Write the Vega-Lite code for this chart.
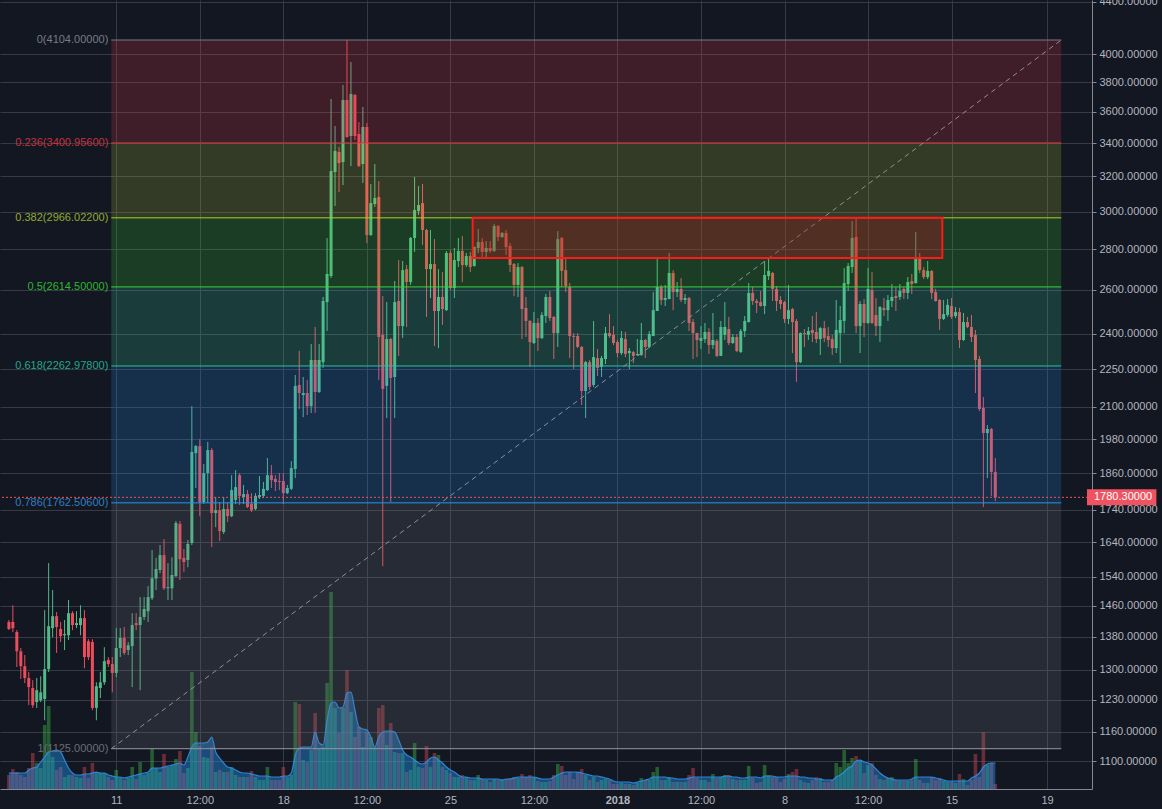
{
"$schema":"https://vega.github.io/schema/vega-lite/v6.json",
"width":1092,"height":789,
"autosize":{"type":"none"},
"padding":{"left":0,"top":0,"right":70,"bottom":20},
"background":"#131722",
"config":{"view":{"stroke":null},"font":"Liberation Sans",
 "axisX":{"gridColor":"#363a45","gridWidth":1,"ticks":false,"domainColor":"#868993","labelColor":"#b2b5be","labelFontSize":11,"labelFont":"Liberation Sans","labelPadding":5,"labelFlush":false,"labelOverlap":false}},
"datasets":{
"candles":[
{"t":"2017-12-06T12:00Z","o":1418,"h":1423,"l":1397,"c":1400,"v":140,"ma":160},
{"t":"2017-12-06T16:00Z","o":1418,"h":1462,"l":1392,"c":1402,"v":200,"ma":160},
{"t":"2017-12-06T20:00Z","o":1392,"h":1397,"l":1306,"c":1344,"v":170,"ma":160},
{"t":"2017-12-07T00:00Z","o":1344,"h":1352,"l":1278,"c":1308,"v":140,"ma":160},
{"t":"2017-12-07T04:00Z","o":1308,"h":1335,"l":1268,"c":1280,"v":120,"ma":160},
{"t":"2017-12-07T08:00Z","o":1280,"h":1294,"l":1218,"c":1259,"v":210,"ma":190},
{"t":"2017-12-07T12:00Z","o":1257,"h":1275,"l":1212,"c":1218,"v":360,"ma":210},
{"t":"2017-12-07T16:00Z","o":1225,"h":1280,"l":1212,"c":1252,"v":260,"ma":220},
{"t":"2017-12-07T20:00Z","o":1229,"h":1284,"l":1225,"c":1247,"v":210,"ma":270},
{"t":"2017-12-08T00:00Z","o":1232,"h":1449,"l":1185,"c":1301,"v":640,"ma":320},
{"t":"2017-12-08T04:00Z","o":1301,"h":1579,"l":1294,"c":1407,"v":830,"ma":370},
{"t":"2017-12-08T08:00Z","o":1402,"h":1503,"l":1379,"c":1433,"v":320,"ma":380},
{"t":"2017-12-08T12:00Z","o":1433,"h":1444,"l":1340,"c":1405,"v":190,"ma":390},
{"t":"2017-12-08T16:00Z","o":1400,"h":1418,"l":1367,"c":1382,"v":220,"ma":370},
{"t":"2017-12-08T20:00Z","o":1384,"h":1423,"l":1347,"c":1387,"v":120,"ma":290},
{"t":"2017-12-09T00:00Z","o":1384,"h":1476,"l":1372,"c":1441,"v":140,"ma":210},
{"t":"2017-12-09T04:00Z","o":1441,"h":1446,"l":1397,"c":1410,"v":140,"ma":160},
{"t":"2017-12-09T08:00Z","o":1410,"h":1446,"l":1402,"c":1415,"v":120,"ma":140},
{"t":"2017-12-09T12:00Z","o":1410,"h":1462,"l":1384,"c":1428,"v":110,"ma":140},
{"t":"2017-12-09T16:00Z","o":1428,"h":1449,"l":1303,"c":1330,"v":220,"ma":150},
{"t":"2017-12-09T20:00Z","o":1369,"h":1374,"l":1323,"c":1330,"v":110,"ma":150},
{"t":"2017-12-10T00:00Z","o":1367,"h":1374,"l":1207,"c":1212,"v":260,"ma":160},
{"t":"2017-12-10T04:00Z","o":1212,"h":1270,"l":1185,"c":1261,"v":170,"ma":170},
{"t":"2017-12-10T08:00Z","o":1257,"h":1294,"l":1234,"c":1270,"v":160,"ma":160},
{"t":"2017-12-10T12:00Z","o":1270,"h":1354,"l":1264,"c":1320,"v":160,"ma":160},
{"t":"2017-12-10T16:00Z","o":1323,"h":1330,"l":1306,"c":1313,"v":120,"ma":140},
{"t":"2017-12-10T20:00Z","o":1313,"h":1330,"l":1247,"c":1292,"v":90,"ma":130},
{"t":"2017-12-11T00:00Z","o":1292,"h":1402,"l":1282,"c":1352,"v":190,"ma":120},
{"t":"2017-12-11T04:00Z","o":1352,"h":1402,"l":1330,"c":1377,"v":110,"ma":120},
{"t":"2017-12-11T08:00Z","o":1377,"h":1405,"l":1335,"c":1340,"v":90,"ma":110},
{"t":"2017-12-11T12:00Z","o":1347,"h":1367,"l":1335,"c":1359,"v":110,"ma":120},
{"t":"2017-12-11T16:00Z","o":1357,"h":1441,"l":1259,"c":1410,"v":220,"ma":130},
{"t":"2017-12-11T20:00Z","o":1415,"h":1441,"l":1397,"c":1410,"v":100,"ma":140},
{"t":"2017-12-12T00:00Z","o":1410,"h":1484,"l":1252,"c":1431,"v":270,"ma":150},
{"t":"2017-12-12T04:00Z","o":1431,"h":1484,"l":1423,"c":1452,"v":140,"ma":160},
{"t":"2017-12-12T08:00Z","o":1446,"h":1514,"l":1418,"c":1484,"v":160,"ma":170},
{"t":"2017-12-12T12:00Z","o":1481,"h":1617,"l":1476,"c":1536,"v":400,"ma":210},
{"t":"2017-12-12T16:00Z","o":1535,"h":1594,"l":1503,"c":1562,"v":210,"ma":210},
{"t":"2017-12-12T20:00Z","o":1559,"h":1632,"l":1550,"c":1602,"v":170,"ma":210},
{"t":"2017-12-13T00:00Z","o":1602,"h":1650,"l":1503,"c":1508,"v":350,"ma":220},
{"t":"2017-12-13T04:00Z","o":1508,"h":1579,"l":1476,"c":1511,"v":220,"ma":230},
{"t":"2017-12-13T08:00Z","o":1508,"h":1596,"l":1476,"c":1545,"v":240,"ma":240},
{"t":"2017-12-13T12:00Z","o":1542,"h":1705,"l":1539,"c":1699,"v":300,"ma":250},
{"t":"2017-12-13T16:00Z","o":1696,"h":1705,"l":1531,"c":1590,"v":380,"ma":260},
{"t":"2017-12-13T20:00Z","o":1594,"h":1620,"l":1553,"c":1582,"v":160,"ma":240},
{"t":"2017-12-14T00:00Z","o":1588,"h":1647,"l":1567,"c":1635,"v":210,"ma":320},
{"t":"2017-12-14T04:00Z","o":1638,"h":2103,"l":1632,"c":1934,"v":1170,"ma":420},
{"t":"2017-12-14T08:00Z","o":1930,"h":1959,"l":1811,"c":1955,"v":570,"ma":460},
{"t":"2017-12-14T12:00Z","o":1955,"h":1980,"l":1720,"c":1765,"v":430,"ma":460},
{"t":"2017-12-14T16:00Z","o":1765,"h":1892,"l":1759,"c":1861,"v":320,"ma":460},
{"t":"2017-12-14T20:00Z","o":1861,"h":1970,"l":1762,"c":1941,"v":310,"ma":470},
{"t":"2017-12-15T00:00Z","o":1941,"h":1948,"l":1626,"c":1730,"v":420,"ma":520},
{"t":"2017-12-15T04:00Z","o":1730,"h":1781,"l":1686,"c":1739,"v":170,"ma":370},
{"t":"2017-12-15T08:00Z","o":1739,"h":1765,"l":1644,"c":1674,"v":190,"ma":310},
{"t":"2017-12-15T12:00Z","o":1671,"h":1781,"l":1665,"c":1743,"v":170,"ma":260},
{"t":"2017-12-15T16:00Z","o":1743,"h":1765,"l":1702,"c":1720,"v":170,"ma":220},
{"t":"2017-12-15T20:00Z","o":1720,"h":1854,"l":1717,"c":1804,"v":220,"ma":210},
{"t":"2017-12-16T00:00Z","o":1772,"h":1871,"l":1759,"c":1814,"v":140,"ma":190},
{"t":"2017-12-16T04:00Z","o":1854,"h":1861,"l":1756,"c":1785,"v":120,"ma":170},
{"t":"2017-12-16T08:00Z","o":1781,"h":1821,"l":1759,"c":1791,"v":120,"ma":160},
{"t":"2017-12-16T12:00Z","o":1791,"h":1804,"l":1746,"c":1749,"v":120,"ma":160},
{"t":"2017-12-16T16:00Z","o":1759,"h":1794,"l":1733,"c":1739,"v":180,"ma":150},
{"t":"2017-12-16T20:00Z","o":1743,"h":1794,"l":1739,"c":1785,"v":120,"ma":140},
{"t":"2017-12-17T00:00Z","o":1781,"h":1851,"l":1775,"c":1788,"v":90,"ma":130},
{"t":"2017-12-17T04:00Z","o":1785,"h":1831,"l":1778,"c":1808,"v":90,"ma":130},
{"t":"2017-12-17T08:00Z","o":1804,"h":1913,"l":1801,"c":1854,"v":220,"ma":130},
{"t":"2017-12-17T12:00Z","o":1854,"h":1889,"l":1811,"c":1837,"v":90,"ma":120},
{"t":"2017-12-17T16:00Z","o":1841,"h":1854,"l":1801,"c":1831,"v":90,"ma":120},
{"t":"2017-12-17T20:00Z","o":1834,"h":1861,"l":1804,"c":1831,"v":90,"ma":120},
{"t":"2017-12-18T00:00Z","o":1834,"h":1861,"l":1759,"c":1794,"v":220,"ma":130},
{"t":"2017-12-18T04:00Z","o":1794,"h":1821,"l":1791,"c":1811,"v":120,"ma":130},
{"t":"2017-12-18T08:00Z","o":1808,"h":1902,"l":1804,"c":1878,"v":140,"ma":160},
{"t":"2017-12-18T12:00Z","o":1875,"h":2226,"l":1844,"c":2182,"v":870,"ma":340},
{"t":"2017-12-18T16:00Z","o":2186,"h":2326,"l":2092,"c":2154,"v":850,"ma":410},
{"t":"2017-12-18T20:00Z","o":2146,"h":2218,"l":2061,"c":2154,"v":290,"ma":420},
{"t":"2017-12-19T00:00Z","o":2154,"h":2206,"l":2069,"c":2103,"v":270,"ma":420},
{"t":"2017-12-19T04:00Z","o":2103,"h":2356,"l":2077,"c":2288,"v":390,"ma":420},
{"t":"2017-12-19T08:00Z","o":2288,"h":2430,"l":2077,"c":2158,"v":760,"ma":570},
{"t":"2017-12-19T12:00Z","o":2158,"h":2356,"l":2154,"c":2288,"v":410,"ma":460},
{"t":"2017-12-19T16:00Z","o":2279,"h":2567,"l":2255,"c":2548,"v":420,"ma":440},
{"t":"2017-12-19T20:00Z","o":2543,"h":2859,"l":2412,"c":2677,"v":1060,"ma":690},
{"t":"2017-12-20T00:00Z","o":2667,"h":3685,"l":2657,"c":3231,"v":1970,"ma":860},
{"t":"2017-12-20T04:00Z","o":3225,"h":3508,"l":3031,"c":3351,"v":810,"ma":870},
{"t":"2017-12-20T08:00Z","o":3345,"h":3376,"l":3109,"c":3278,"v":560,"ma":810},
{"t":"2017-12-20T12:00Z","o":3284,"h":3780,"l":3149,"c":3678,"v":810,"ma":820},
{"t":"2017-12-20T16:00Z","o":3678,"h":4104,"l":3432,"c":3438,"v":1190,"ma":960},
{"t":"2017-12-20T20:00Z","o":3444,"h":3942,"l":3260,"c":3719,"v":770,"ma":970},
{"t":"2017-12-21T00:00Z","o":3712,"h":3719,"l":3419,"c":3444,"v":520,"ma":790},
{"t":"2017-12-21T04:00Z","o":3457,"h":3533,"l":3255,"c":3260,"v":620,"ma":620},
{"t":"2017-12-21T08:00Z","o":3272,"h":3632,"l":3161,"c":3501,"v":420,"ma":600},
{"t":"2017-12-21T12:00Z","o":3501,"h":3527,"l":2833,"c":2874,"v":570,"ma":590},
{"t":"2017-12-21T16:00Z","o":2874,"h":3155,"l":2869,"c":3047,"v":520,"ma":520},
{"t":"2017-12-21T20:00Z","o":3042,"h":3272,"l":3025,"c":3075,"v":420,"ma":420},
{"t":"2017-12-22T00:00Z","o":3081,"h":3172,"l":2206,"c":2386,"v":810,"ma":520},
{"t":"2017-12-22T04:00Z","o":2395,"h":2571,"l":1570,"c":2170,"v":840,"ma":570},
{"t":"2017-12-22T08:00Z","o":2182,"h":2543,"l":2058,"c":2377,"v":440,"ma":580},
{"t":"2017-12-22T12:00Z","o":2377,"h":2382,"l":1765,"c":2214,"v":660,"ma":580},
{"t":"2017-12-22T16:00Z","o":2218,"h":2643,"l":2058,"c":2543,"v":370,"ma":570},
{"t":"2017-12-22T20:00Z","o":2548,"h":2746,"l":2305,"c":2434,"v":360,"ma":490},
{"t":"2017-12-23T00:00Z","o":2434,"h":2741,"l":2382,"c":2696,"v":360,"ma":390},
{"t":"2017-12-23T04:00Z","o":2701,"h":2721,"l":2430,"c":2638,"v":170,"ma":340},
{"t":"2017-12-23T08:00Z","o":2638,"h":2864,"l":2624,"c":2859,"v":190,"ma":320},
{"t":"2017-12-23T12:00Z","o":2859,"h":3196,"l":2787,"c":3009,"v":460,"ma":290},
{"t":"2017-12-23T16:00Z","o":3003,"h":3143,"l":2981,"c":3036,"v":220,"ma":260},
{"t":"2017-12-23T20:00Z","o":3047,"h":3155,"l":2822,"c":2901,"v":210,"ma":250},
{"t":"2017-12-24T00:00Z","o":2901,"h":2906,"l":2475,"c":2701,"v":430,"ma":270},
{"t":"2017-12-24T04:00Z","o":2701,"h":2901,"l":2562,"c":2726,"v":220,"ma":310},
{"t":"2017-12-24T08:00Z","o":2726,"h":2853,"l":2347,"c":2502,"v":360,"ma":320},
{"t":"2017-12-24T12:00Z","o":2502,"h":2701,"l":2338,"c":2567,"v":340,"ma":290},
{"t":"2017-12-24T16:00Z","o":2567,"h":2687,"l":2439,"c":2511,"v":220,"ma":260},
{"t":"2017-12-24T20:00Z","o":2506,"h":2792,"l":2502,"c":2782,"v":190,"ma":220},
{"t":"2017-12-25T00:00Z","o":2782,"h":2797,"l":2600,"c":2609,"v":160,"ma":190},
{"t":"2017-12-25T04:00Z","o":2609,"h":2807,"l":2562,"c":2746,"v":120,"ma":170},
{"t":"2017-12-25T08:00Z","o":2741,"h":2859,"l":2711,"c":2792,"v":120,"ma":140},
{"t":"2017-12-25T12:00Z","o":2792,"h":2869,"l":2638,"c":2721,"v":140,"ma":120},
{"t":"2017-12-25T16:00Z","o":2721,"h":2782,"l":2711,"c":2766,"v":120,"ma":120},
{"t":"2017-12-25T20:00Z","o":2766,"h":2787,"l":2687,"c":2711,"v":90,"ma":110},
{"t":"2017-12-26T00:00Z","o":2716,"h":2815,"l":2714,"c":2812,"v":90,"ma":110},
{"t":"2017-12-26T04:00Z","o":2807,"h":2906,"l":2782,"c":2838,"v":140,"ma":110},
{"t":"2017-12-26T08:00Z","o":2838,"h":2859,"l":2761,"c":2787,"v":100,"ma":100},
{"t":"2017-12-26T12:00Z","o":2787,"h":2843,"l":2761,"c":2807,"v":90,"ma":100},
{"t":"2017-12-26T16:00Z","o":2807,"h":2843,"l":2782,"c":2792,"v":70,"ma":100},
{"t":"2017-12-26T20:00Z","o":2792,"h":2933,"l":2787,"c":2922,"v":100,"ma":100},
{"t":"2017-12-27T00:00Z","o":2922,"h":2927,"l":2843,"c":2864,"v":90,"ma":100},
{"t":"2017-12-27T04:00Z","o":2864,"h":2890,"l":2859,"c":2885,"v":90,"ma":90},
{"t":"2017-12-27T08:00Z","o":2885,"h":2901,"l":2771,"c":2812,"v":100,"ma":100},
{"t":"2017-12-27T12:00Z","o":2817,"h":2833,"l":2687,"c":2721,"v":110,"ma":100},
{"t":"2017-12-27T16:00Z","o":2726,"h":2731,"l":2571,"c":2624,"v":120,"ma":110},
{"t":"2017-12-27T20:00Z","o":2624,"h":2731,"l":2567,"c":2711,"v":110,"ma":120},
{"t":"2017-12-28T00:00Z","o":2711,"h":2716,"l":2377,"c":2511,"v":150,"ma":120},
{"t":"2017-12-28T04:00Z","o":2516,"h":2567,"l":2386,"c":2457,"v":120,"ma":120},
{"t":"2017-12-28T08:00Z","o":2457,"h":2461,"l":2259,"c":2364,"v":140,"ma":120},
{"t":"2017-12-28T12:00Z","o":2360,"h":2497,"l":2356,"c":2448,"v":120,"ma":120},
{"t":"2017-12-28T16:00Z","o":2448,"h":2470,"l":2326,"c":2381,"v":80,"ma":110},
{"t":"2017-12-28T20:00Z","o":2381,"h":2497,"l":2377,"c":2484,"v":70,"ma":100},
{"t":"2017-12-29T00:00Z","o":2479,"h":2581,"l":2448,"c":2567,"v":70,"ma":100},
{"t":"2017-12-29T04:00Z","o":2567,"h":2595,"l":2457,"c":2470,"v":80,"ma":100},
{"t":"2017-12-29T08:00Z","o":2475,"h":2479,"l":2292,"c":2403,"v":140,"ma":120},
{"t":"2017-12-29T12:00Z","o":2403,"h":2895,"l":2343,"c":2853,"v":250,"ma":140},
{"t":"2017-12-29T16:00Z","o":2859,"h":2864,"l":2614,"c":2692,"v":230,"ma":160},
{"t":"2017-12-29T20:00Z","o":2696,"h":2761,"l":2590,"c":2619,"v":140,"ma":170},
{"t":"2017-12-30T00:00Z","o":2614,"h":2633,"l":2296,"c":2390,"v":170,"ma":170},
{"t":"2017-12-30T04:00Z","o":2390,"h":2403,"l":2250,"c":2386,"v":100,"ma":170},
{"t":"2017-12-30T08:00Z","o":2390,"h":2403,"l":2338,"c":2343,"v":170,"ma":170},
{"t":"2017-12-30T12:00Z","o":2343,"h":2347,"l":2107,"c":2162,"v":200,"ma":160},
{"t":"2017-12-30T16:00Z","o":2162,"h":2284,"l":2058,"c":2279,"v":140,"ma":150},
{"t":"2017-12-30T20:00Z","o":2279,"h":2288,"l":2166,"c":2178,"v":90,"ma":140},
{"t":"2017-12-31T00:00Z","o":2186,"h":2457,"l":2178,"c":2300,"v":120,"ma":130},
{"t":"2017-12-31T04:00Z","o":2296,"h":2334,"l":2222,"c":2255,"v":70,"ma":130},
{"t":"2017-12-31T08:00Z","o":2259,"h":2305,"l":2218,"c":2296,"v":90,"ma":120},
{"t":"2017-12-31T12:00Z","o":2292,"h":2430,"l":2271,"c":2403,"v":100,"ma":110},
{"t":"2017-12-31T16:00Z","o":2403,"h":2488,"l":2382,"c":2390,"v":90,"ma":100},
{"t":"2017-12-31T20:00Z","o":2395,"h":2434,"l":2351,"c":2360,"v":50,"ma":80},
{"t":"2018-01-01T00:00Z","o":2364,"h":2373,"l":2300,"c":2317,"v":50,"ma":70},
{"t":"2018-01-01T04:00Z","o":2317,"h":2412,"l":2309,"c":2382,"v":60,"ma":70},
{"t":"2018-01-01T08:00Z","o":2377,"h":2408,"l":2300,"c":2313,"v":50,"ma":70},
{"t":"2018-01-01T12:00Z","o":2317,"h":2338,"l":2250,"c":2326,"v":50,"ma":70},
{"t":"2018-01-01T16:00Z","o":2321,"h":2326,"l":2275,"c":2305,"v":40,"ma":60},
{"t":"2018-01-01T20:00Z","o":2309,"h":2377,"l":2305,"c":2313,"v":60,"ma":70},
{"t":"2018-01-02T00:00Z","o":2309,"h":2448,"l":2305,"c":2373,"v":110,"ma":80},
{"t":"2018-01-02T04:00Z","o":2373,"h":2377,"l":2296,"c":2343,"v":90,"ma":90},
{"t":"2018-01-02T08:00Z","o":2343,"h":2412,"l":2338,"c":2399,"v":90,"ma":100},
{"t":"2018-01-02T12:00Z","o":2390,"h":2590,"l":2390,"c":2506,"v":170,"ma":120},
{"t":"2018-01-02T16:00Z","o":2502,"h":2756,"l":2502,"c":2614,"v":220,"ma":120},
{"t":"2018-01-02T20:00Z","o":2614,"h":2624,"l":2530,"c":2553,"v":90,"ma":120},
{"t":"2018-01-03T00:00Z","o":2553,"h":2624,"l":2525,"c":2562,"v":90,"ma":120},
{"t":"2018-01-03T04:00Z","o":2557,"h":2782,"l":2557,"c":2682,"v":120,"ma":110},
{"t":"2018-01-03T08:00Z","o":2682,"h":2696,"l":2506,"c":2590,"v":70,"ma":110},
{"t":"2018-01-03T12:00Z","o":2590,"h":2638,"l":2567,"c":2605,"v":70,"ma":100},
{"t":"2018-01-03T16:00Z","o":2605,"h":2657,"l":2543,"c":2553,"v":70,"ma":100},
{"t":"2018-01-03T20:00Z","o":2553,"h":2581,"l":2534,"c":2562,"v":70,"ma":100},
{"t":"2018-01-04T00:00Z","o":2562,"h":2567,"l":2412,"c":2448,"v":140,"ma":110},
{"t":"2018-01-04T04:00Z","o":2452,"h":2466,"l":2292,"c":2403,"v":210,"ma":120},
{"t":"2018-01-04T08:00Z","o":2403,"h":2405,"l":2300,"c":2373,"v":110,"ma":120},
{"t":"2018-01-04T12:00Z","o":2369,"h":2434,"l":2334,"c":2382,"v":90,"ma":120},
{"t":"2018-01-04T16:00Z","o":2377,"h":2448,"l":2360,"c":2408,"v":90,"ma":120},
{"t":"2018-01-04T20:00Z","o":2408,"h":2425,"l":2313,"c":2351,"v":70,"ma":120},
{"t":"2018-01-05T00:00Z","o":2351,"h":2493,"l":2334,"c":2373,"v":150,"ma":120},
{"t":"2018-01-05T04:00Z","o":2369,"h":2377,"l":2300,"c":2305,"v":110,"ma":120},
{"t":"2018-01-05T08:00Z","o":2305,"h":2457,"l":2305,"c":2430,"v":120,"ma":120},
{"t":"2018-01-05T12:00Z","o":2395,"h":2543,"l":2373,"c":2430,"v":140,"ma":130},
{"t":"2018-01-05T16:00Z","o":2421,"h":2475,"l":2351,"c":2360,"v":140,"ma":130},
{"t":"2018-01-05T20:00Z","o":2360,"h":2399,"l":2356,"c":2386,"v":100,"ma":120},
{"t":"2018-01-06T00:00Z","o":2386,"h":2399,"l":2321,"c":2326,"v":90,"ma":120},
{"t":"2018-01-06T04:00Z","o":2321,"h":2421,"l":2318,"c":2412,"v":90,"ma":110},
{"t":"2018-01-06T08:00Z","o":2412,"h":2479,"l":2386,"c":2457,"v":90,"ma":110},
{"t":"2018-01-06T12:00Z","o":2452,"h":2633,"l":2450,"c":2586,"v":230,"ma":120},
{"t":"2018-01-06T16:00Z","o":2586,"h":2614,"l":2530,"c":2548,"v":110,"ma":120},
{"t":"2018-01-06T20:00Z","o":2548,"h":2557,"l":2493,"c":2539,"v":60,"ma":120},
{"t":"2018-01-07T00:00Z","o":2543,"h":2595,"l":2522,"c":2525,"v":70,"ma":110},
{"t":"2018-01-07T04:00Z","o":2525,"h":2741,"l":2488,"c":2672,"v":240,"ma":130},
{"t":"2018-01-07T08:00Z","o":2667,"h":2751,"l":2648,"c":2692,"v":140,"ma":130},
{"t":"2018-01-07T12:00Z","o":2682,"h":2687,"l":2548,"c":2605,"v":120,"ma":130},
{"t":"2018-01-07T16:00Z","o":2605,"h":2619,"l":2502,"c":2548,"v":120,"ma":120},
{"t":"2018-01-07T20:00Z","o":2553,"h":2571,"l":2511,"c":2534,"v":70,"ma":120},
{"t":"2018-01-08T00:00Z","o":2543,"h":2548,"l":2448,"c":2466,"v":100,"ma":120},
{"t":"2018-01-08T04:00Z","o":2466,"h":2624,"l":2443,"c":2506,"v":150,"ma":130},
{"t":"2018-01-08T08:00Z","o":2511,"h":2516,"l":2317,"c":2452,"v":170,"ma":130},
{"t":"2018-01-08T12:00Z","o":2457,"h":2466,"l":2198,"c":2279,"v":200,"ma":130},
{"t":"2018-01-08T16:00Z","o":2279,"h":2406,"l":2275,"c":2403,"v":90,"ma":120},
{"t":"2018-01-08T20:00Z","o":2403,"h":2421,"l":2343,"c":2399,"v":70,"ma":120},
{"t":"2018-01-09T00:00Z","o":2395,"h":2430,"l":2373,"c":2412,"v":60,"ma":110},
{"t":"2018-01-09T04:00Z","o":2417,"h":2479,"l":2364,"c":2403,"v":90,"ma":110},
{"t":"2018-01-09T08:00Z","o":2408,"h":2497,"l":2360,"c":2377,"v":120,"ma":100},
{"t":"2018-01-09T12:00Z","o":2377,"h":2430,"l":2309,"c":2425,"v":110,"ma":100},
{"t":"2018-01-09T16:00Z","o":2425,"h":2457,"l":2364,"c":2382,"v":70,"ma":90},
{"t":"2018-01-09T20:00Z","o":2390,"h":2430,"l":2343,"c":2373,"v":70,"ma":90},
{"t":"2018-01-10T00:00Z","o":2377,"h":2395,"l":2309,"c":2338,"v":90,"ma":90},
{"t":"2018-01-10T04:00Z","o":2338,"h":2553,"l":2317,"c":2417,"v":260,"ma":120},
{"t":"2018-01-10T08:00Z","o":2403,"h":2525,"l":2275,"c":2461,"v":220,"ma":140},
{"t":"2018-01-10T12:00Z","o":2457,"h":2706,"l":2403,"c":2633,"v":390,"ma":170},
{"t":"2018-01-10T16:00Z","o":2628,"h":2731,"l":2595,"c":2716,"v":260,"ma":210},
{"t":"2018-01-10T20:00Z","o":2711,"h":2949,"l":2682,"c":2859,"v":310,"ma":230},
{"t":"2018-01-11T00:00Z","o":2864,"h":2960,"l":2403,"c":2434,"v":330,"ma":280},
{"t":"2018-01-11T04:00Z","o":2434,"h":2548,"l":2317,"c":2534,"v":290,"ma":290},
{"t":"2018-01-11T08:00Z","o":2534,"h":2557,"l":2386,"c":2448,"v":160,"ma":270},
{"t":"2018-01-11T12:00Z","o":2448,"h":2706,"l":2443,"c":2605,"v":240,"ma":260},
{"t":"2018-01-11T16:00Z","o":2600,"h":2687,"l":2443,"c":2448,"v":260,"ma":240},
{"t":"2018-01-11T20:00Z","o":2484,"h":2562,"l":2390,"c":2434,"v":140,"ma":200},
{"t":"2018-01-12T00:00Z","o":2434,"h":2525,"l":2364,"c":2520,"v":100,"ma":160},
{"t":"2018-01-12T04:00Z","o":2516,"h":2562,"l":2479,"c":2506,"v":90,"ma":130},
{"t":"2018-01-12T08:00Z","o":2506,"h":2576,"l":2457,"c":2553,"v":110,"ma":110},
{"t":"2018-01-12T12:00Z","o":2548,"h":2628,"l":2520,"c":2567,"v":120,"ma":100},
{"t":"2018-01-12T16:00Z","o":2571,"h":2614,"l":2502,"c":2562,"v":90,"ma":90},
{"t":"2018-01-12T20:00Z","o":2567,"h":2628,"l":2553,"c":2595,"v":80,"ma":90},
{"t":"2018-01-13T00:00Z","o":2605,"h":2614,"l":2557,"c":2586,"v":80,"ma":90},
{"t":"2018-01-13T04:00Z","o":2586,"h":2662,"l":2557,"c":2638,"v":80,"ma":90},
{"t":"2018-01-13T08:00Z","o":2643,"h":2677,"l":2581,"c":2628,"v":90,"ma":100},
{"t":"2018-01-13T12:00Z","o":2633,"h":2890,"l":2630,"c":2751,"v":300,"ma":120},
{"t":"2018-01-13T16:00Z","o":2756,"h":2782,"l":2682,"c":2696,"v":90,"ma":120},
{"t":"2018-01-13T20:00Z","o":2696,"h":2711,"l":2652,"c":2662,"v":60,"ma":120},
{"t":"2018-01-14T00:00Z","o":2662,"h":2741,"l":2652,"c":2692,"v":60,"ma":120},
{"t":"2018-01-14T04:00Z","o":2692,"h":2696,"l":2557,"c":2586,"v":120,"ma":120},
{"t":"2018-01-14T08:00Z","o":2590,"h":2605,"l":2545,"c":2548,"v":90,"ma":110},
{"t":"2018-01-14T12:00Z","o":2553,"h":2557,"l":2417,"c":2466,"v":110,"ma":100},
{"t":"2018-01-14T16:00Z","o":2466,"h":2553,"l":2461,"c":2488,"v":80,"ma":90},
{"t":"2018-01-14T20:00Z","o":2484,"h":2557,"l":2475,"c":2530,"v":70,"ma":80},
{"t":"2018-01-15T00:00Z","o":2525,"h":2562,"l":2466,"c":2475,"v":70,"ma":80},
{"t":"2018-01-15T04:00Z","o":2479,"h":2520,"l":2470,"c":2497,"v":60,"ma":80},
{"t":"2018-01-15T08:00Z","o":2497,"h":2516,"l":2338,"c":2373,"v":150,"ma":80},
{"t":"2018-01-15T12:00Z","o":2373,"h":2493,"l":2369,"c":2452,"v":100,"ma":80},
{"t":"2018-01-15T16:00Z","o":2452,"h":2475,"l":2425,"c":2430,"v":40,"ma":80},
{"t":"2018-01-15T20:00Z","o":2430,"h":2484,"l":2364,"c":2386,"v":90,"ma":110},
{"t":"2018-01-16T00:00Z","o":2395,"h":2417,"l":2154,"c":2288,"v":350,"ma":130},
{"t":"2018-01-16T04:00Z","o":2292,"h":2305,"l":2084,"c":2092,"v":120,"ma":160},
{"t":"2018-01-16T08:00Z","o":2096,"h":2138,"l":1749,"c":2002,"v":570,"ma":220},
{"t":"2018-01-16T12:00Z","o":2002,"h":2032,"l":1844,"c":2017,"v":240,"ma":250},
{"t":"2018-01-16T16:00Z","o":2017,"h":2021,"l":1785,"c":1865,"v":260,"ma":260},
{"t":"2018-01-16T20:00Z","o":1865,"h":1913,"l":1768,"c":1780.3,"v":50,"ma":260}
],
"fib":[
{"level":"0","price":4104,"label":"0(4104.00000)","t1":"2017-12-10T19:00Z","t2":"2018-01-19T14:18Z"},
{"level":"0.236","price":3400.956,"label":"0.236(3400.95600)","t1":"2017-12-10T19:00Z","t2":"2018-01-19T14:18Z"},
{"level":"0.382","price":2966.022,"label":"0.382(2966.02200)","t1":"2017-12-10T19:00Z","t2":"2018-01-19T14:18Z"},
{"level":"0.5","price":2614.5,"label":"0.5(2614.50000)","t1":"2017-12-10T19:00Z","t2":"2018-01-19T14:18Z"},
{"level":"0.618","price":2262.978,"label":"0.618(2262.97800)","t1":"2017-12-10T19:00Z","t2":"2018-01-19T14:18Z"},
{"level":"0.786","price":1762.506,"label":"0.786(1762.50600)","t1":"2017-12-10T19:00Z","t2":"2018-01-19T14:18Z"},
{"level":"1","price":1125,"label":"1(1125.00000)","t1":"2017-12-10T19:00Z","t2":"2018-01-19T14:18Z"}
],
"bands":[
{"band":"0-0.236","top":4104,"bottom":3400.956,"t1":"2017-12-10T19:00Z","t2":"2018-01-19T14:18Z"},
{"band":"0.236-0.382","top":3400.956,"bottom":2966.022,"t1":"2017-12-10T19:00Z","t2":"2018-01-19T14:18Z"},
{"band":"0.382-0.5","top":2966.022,"bottom":2614.5,"t1":"2017-12-10T19:00Z","t2":"2018-01-19T14:18Z"},
{"band":"0.5-0.618","top":2614.5,"bottom":2262.978,"t1":"2017-12-10T19:00Z","t2":"2018-01-19T14:18Z"},
{"band":"0.618-0.786","top":2262.978,"bottom":1762.506,"t1":"2017-12-10T19:00Z","t2":"2018-01-19T14:18Z"},
{"band":"0.786-1","top":1762.506,"bottom":1125,"t1":"2017-12-10T19:00Z","t2":"2018-01-19T14:18Z"}
],
"trend":[{"t1":"2017-12-10T19:00Z","p1":1125,"t2":"2018-01-19T14:18Z","p2":4104}],
"zone":[{"t1":"2017-12-25T22:24Z","t2":"2018-01-14T14:42Z","top":2966.022,"bottom":2756}],
"last":[{"price":1780.3,"label":"1780.30000"}]
},
"layer":[
{
"data":{"name":"candles"},
"encoding":{"x":{"field":"t","type":"temporal",
 "scale":{"type":"utc","domain":[{"year":2017,"month":12,"date":6,"hours":8,"minutes":6,"utc":true},{"year":2018,"month":1,"date":20,"hours":16,"minutes":12,"utc":true}]},
 "axis":{"title":null,"orient":"bottom","grid":true,
  "values":[{"year":2017,"month":12,"date":11,"utc":true},{"year":2017,"month":12,"date":14,"hours":12,"utc":true},{"year":2017,"month":12,"date":18,"utc":true},{"year":2017,"month":12,"date":21,"hours":12,"utc":true},{"year":2017,"month":12,"date":25,"utc":true},{"year":2017,"month":12,"date":28,"hours":12,"utc":true},{"year":2018,"month":1,"date":1,"utc":true},{"year":2018,"month":1,"date":4,"hours":12,"utc":true},{"year":2018,"month":1,"date":8,"utc":true},{"year":2018,"month":1,"date":11,"hours":12,"utc":true},{"year":2018,"month":1,"date":15,"utc":true},{"year":2018,"month":1,"date":19,"utc":true}],
  "labelExpr":"utchours(datum.value) == 12 ? '12:00' : (utcmonth(datum.value) == 0 && utcdate(datum.value) == 1 ? '2018' : '' + utcdate(datum.value))",
  "labelFontWeight":{"condition":{"test":"utcmonth(datum.value) == 0 && utcdate(datum.value) == 1","value":"bold"},"value":"normal"}}}},
"layer":[
{"mark":{"type":"rule","strokeWidth":1},
 "encoding":{"y":{"field":"l","type":"quantitative","scale":{"type":"log","domain":[1045.2,4415],"nice":false,"zero":false},
  "axis":{"title":null,"orient":"right","values":[1100,1160,1230,1300,1380,1460,1540,1640,1740,1860,1980,2100,2250,2400,2600,2800,3000,3200,3400,3600,3800,4000,4400],"format":".5f",
   "grid":true,"gridColor":"#363a45","gridWidth":1,"ticks":true,"tickSize":4,"tickColor":"#868993","domainColor":"#868993",
   "labelColor":"#b2b5be","labelFontSize":11,"labelFont":"Liberation Sans","labelPadding":3,"labelFlush":false,"labelOverlap":false,"labelBaseline":"middle"}},
  "y2":{"field":"h"},
  "color":{"condition":{"test":"datum.c >= datum.o","value":"#53b987"},"value":"#eb4d5c"}}},
{"mark":{"type":"bar","size":3},
 "encoding":{"y":{"field":"o","type":"quantitative","scale":{"type":"log","domain":[1045.2,4415],"nice":false,"zero":false}},
  "y2":{"field":"c"},
  "color":{"condition":{"test":"datum.c >= datum.o","value":"#53b987"},"value":"#eb4d5c"}}}
]
},
{
"data":{"name":"candles"},
"encoding":{"x":{"field":"t","type":"temporal","axis":{"title":null},
 "scale":{"type":"utc","domain":[{"year":2017,"month":12,"date":6,"hours":8,"minutes":6,"utc":true},{"year":2018,"month":1,"date":20,"hours":16,"minutes":12,"utc":true}]}}},
"layer":[
{"mark":{"type":"bar","size":3.6,"opacity":0.45},
 "encoding":{"y":{"field":"v","type":"quantitative","axis":null,"stack":null,"scale":{"domain":[0,7890],"nice":false,"zero":true}},
  "color":{"condition":{"test":"datum.c >= datum.o","value":"#3cb44a"},"value":"#d04a55"}}},
{"mark":{"type":"area","color":"#2196f3","opacity":0.42,"interpolate":"monotone","line":{"color":"#2f8ee5","strokeWidth":1.2,"opacity":0.9}},
 "encoding":{"y":{"field":"ma","type":"quantitative","axis":null,"stack":null,"scale":{"domain":[0,7890],"nice":false,"zero":true}}}}
]
},
{
"layer":[
{"data":{"name":"bands"},
 "mark":{"type":"rect","opacity":0.2},
 "encoding":{
  "x":{"field":"t1","type":"temporal","axis":{"title":null},"scale":{"type":"utc","domain":[{"year":2017,"month":12,"date":6,"hours":8,"minutes":6,"utc":true},{"year":2018,"month":1,"date":20,"hours":16,"minutes":12,"utc":true}]}},
  "x2":{"field":"t2"},
  "y":{"field":"top","type":"quantitative","axis":null,"scale":{"type":"log","domain":[1045.2,4415],"nice":false,"zero":false}},
  "y2":{"field":"bottom"},
  "color":{"field":"band","type":"nominal","legend":null,
   "scale":{"domain":["0-0.236","0.236-0.382","0.382-0.5","0.5-0.618","0.618-0.786","0.786-1"],"range":["#f23645","#b3c636","#3bd531","#36d09f","#2196f3","#787b86"]}}}},
{"data":{"name":"fib"},
 "mark":{"type":"rule","strokeWidth":1},
 "encoding":{
  "x":{"field":"t1","type":"temporal","axis":{"title":null},"scale":{"type":"utc","domain":[{"year":2017,"month":12,"date":6,"hours":8,"minutes":6,"utc":true},{"year":2018,"month":1,"date":20,"hours":16,"minutes":12,"utc":true}]}},
  "x2":{"field":"t2"},
  "y":{"field":"price","type":"quantitative","axis":null,"scale":{"type":"log","domain":[1045.2,4415],"nice":false,"zero":false}},
  "color":{"field":"level","type":"nominal","legend":null,
   "scale":{"domain":["0","0.236","0.382","0.5","0.618","0.786","1"],"range":["#787b86","#d9363e","#a8d42c","#3ad43a","#30c0a0","#2196f3","#9598a1"]}}}},
{"data":{"name":"fib"},
 "mark":{"type":"text","align":"right","baseline":"middle","dx":-3,"fontSize":11,"font":"Liberation Sans"},
 "encoding":{
  "x":{"field":"t1","type":"temporal","axis":{"title":null},"scale":{"type":"utc","domain":[{"year":2017,"month":12,"date":6,"hours":8,"minutes":6,"utc":true},{"year":2018,"month":1,"date":20,"hours":16,"minutes":12,"utc":true}]}},
  "y":{"field":"price","type":"quantitative","axis":null,"scale":{"type":"log","domain":[1045.2,4415],"nice":false,"zero":false}},
  "text":{"field":"label"},
  "color":{"field":"level","type":"nominal","legend":null,
   "scale":{"domain":["0","0.236","0.382","0.5","0.618","0.786","1"],"range":["#787b86","#c8323c","#94aa2e","#2fb52f","#22a88c","#2f7fc0","#6a6d78"]}}}},
{"data":{"name":"trend"},
 "mark":{"type":"rule","strokeWidth":1,"strokeDash":[5,4],"color":"#8c8f99"},
 "encoding":{
  "x":{"field":"t1","type":"temporal","axis":{"title":null},"scale":{"type":"utc","domain":[{"year":2017,"month":12,"date":6,"hours":8,"minutes":6,"utc":true},{"year":2018,"month":1,"date":20,"hours":16,"minutes":12,"utc":true}]}},
  "x2":{"field":"t2"},
  "y":{"field":"p1","type":"quantitative","axis":null,"scale":{"type":"log","domain":[1045.2,4415],"nice":false,"zero":false}},
  "y2":{"field":"p2"}}},
{"data":{"name":"zone"},
 "mark":{"type":"rect","fill":"#d01020","fillOpacity":0.3,"stroke":"#ff1a1a","strokeWidth":2},
 "encoding":{
  "x":{"field":"t1","type":"temporal","axis":{"title":null},"scale":{"type":"utc","domain":[{"year":2017,"month":12,"date":6,"hours":8,"minutes":6,"utc":true},{"year":2018,"month":1,"date":20,"hours":16,"minutes":12,"utc":true}]}},
  "x2":{"field":"t2"},
  "y":{"field":"top","type":"quantitative","axis":null,"scale":{"type":"log","domain":[1045.2,4415],"nice":false,"zero":false}},
  "y2":{"field":"bottom"}}},
{"data":{"name":"last"},
 "mark":{"type":"rule","strokeWidth":1,"strokeDash":[2,2],"color":"#ef5350"},
 "encoding":{
  "y":{"field":"price","type":"quantitative","axis":null,"scale":{"type":"log","domain":[1045.2,4415],"nice":false,"zero":false}}}},
{"data":{"name":"last"},
 "mark":{"type":"rule","strokeWidth":16,"strokeCap":"butt","color":"#ef5360"},
 "encoding":{
  "x":{"datum":{"year":2018,"month":1,"date":20,"hours":16,"minutes":12,"utc":true},"type":"temporal","axis":{"title":null},"scale":{"type":"utc","domain":[{"year":2017,"month":12,"date":6,"hours":8,"minutes":6,"utc":true},{"year":2018,"month":1,"date":20,"hours":16,"minutes":12,"utc":true}]}},
  "x2":{"datum":{"year":2018,"month":1,"date":23,"hours":14,"utc":true}},
  "y":{"field":"price","type":"quantitative","axis":null,"scale":{"type":"log","domain":[1045.2,4415],"nice":false,"zero":false}}}},
{"data":{"name":"last"},
 "mark":{"type":"text","align":"left","baseline":"middle","dx":7,"fontSize":11,"font":"Liberation Sans","color":"#ffffff"},
 "encoding":{
  "x":{"datum":{"year":2018,"month":1,"date":20,"hours":16,"minutes":12,"utc":true},"type":"temporal","axis":{"title":null},"scale":{"type":"utc","domain":[{"year":2017,"month":12,"date":6,"hours":8,"minutes":6,"utc":true},{"year":2018,"month":1,"date":20,"hours":16,"minutes":12,"utc":true}]}},
  "y":{"field":"price","type":"quantitative","axis":null,"scale":{"type":"log","domain":[1045.2,4415],"nice":false,"zero":false}},
  "text":{"field":"label"}}}
],
"resolve":{"scale":{"color":"independent"}}
}
],
"resolve":{"scale":{"y":"independent"}}
}
